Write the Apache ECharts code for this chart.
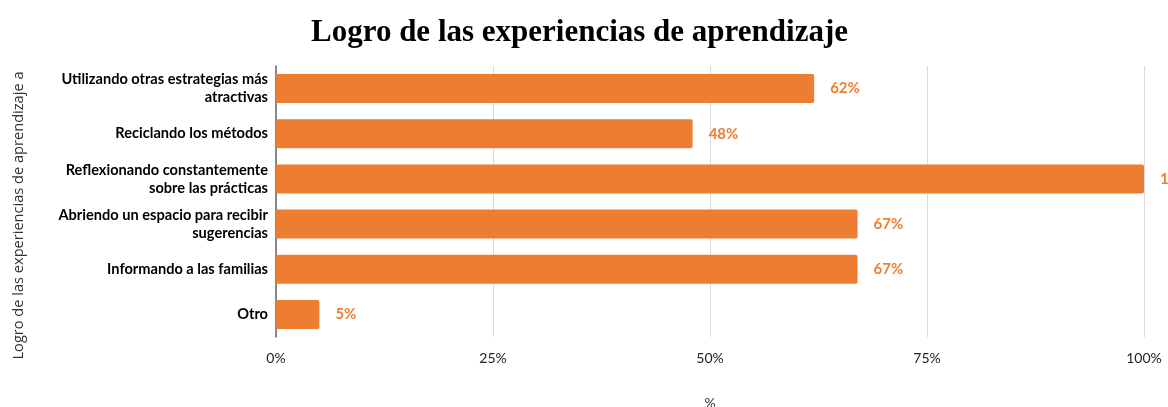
<!DOCTYPE html>
<html>
<head>
<meta charset="utf-8">
<script src="https://cdn.jsdelivr.net/npm/echarts@6/dist/echarts.min.js"></script>
<style>html,body{margin:0;padding:0;background:#fff}#c{width:1168px;height:407px}</style>
</head>
<body>
<div id="c"></div>
<script>
const categories = [
  "Utilizando otras estrategias más\natractivas",
  "Reciclando los métodos",
  "Reflexionando constantemente\nsobre las prácticas",
  "Abriendo un espacio para recibir\nsugerencias",
  "Informando a las familias",
  "Otro"
];
const values = [62, 48, 100, 67, 67, 5];
const xTicks = [0, 25, 50, 75, 100];
const titleText = "Logro de las experiencias de aprendizaje";
const yAxisTitle = "Logro de las experiencias de aprendizaje a";
const xAxisTitle = "%";

const chart = echarts.init(document.getElementById('c'), null, {renderer: 'canvas'});
chart.setOption({
  animation: false,
  title: {
    text: titleText,
    left: 306,
    top: 12,
    textStyle: {fontFamily: 'Liberation Serif', fontWeight: 'bold', fontSize: 31, color: '#000'}
  },
  grid: {left: 276, right: 24, top: 66, bottom: 70, containLabel: false, outerBoundsMode: 'none'},
  xAxis: {
    type: 'value', min: 0, max: 100, interval: 25,
    name: xAxisTitle, nameLocation: 'middle', nameGap: 59,
    nameTextStyle: {fontFamily: 'Lato', fontSize: 14, color: '#333'},
    axisLine: {show: false}, axisTick: {show: false},
    splitLine: {lineStyle: {color: '#d9d9d9', width: 1}},
    axisLabel: {
      margin: 14, fontFamily: 'Lato', fontSize: 14, color: '#222',
      formatter: v => xTicks.includes(v) ? v + '%' : ''
    }
  },
  yAxis: {
    type: 'category', data: categories, inverse: true,
    name: yAxisTitle, nameLocation: 'middle', nameGap: 250, nameRotate: 90,
    nameTextStyle: {fontFamily: 'Open Sans', fontSize: 14.6, color: '#333', padding: [0, 28, 0, 0]},
    axisLine: {show: true, lineStyle: {color: '#666', width: 1.5}},
    axisTick: {show: false},
    axisLabel: {
      margin: 8, fontFamily: 'Lato', fontWeight: 'bold', fontSize: 14.6, color: '#000',
      lineHeight: 18, align: 'right'
    }
  },
  series: [{
    type: 'bar', data: values, barWidth: 29,
    itemStyle: {color: '#ED7D31', borderRadius: 2},
    label: {
      show: true, position: 'right', distance: 16,
      formatter: p => p.value + '%',
      fontFamily: 'Lato', fontWeight: 'bold', fontSize: 15, color: '#ED7D31'
    }
  }]
});
</script>
</body>
</html>
